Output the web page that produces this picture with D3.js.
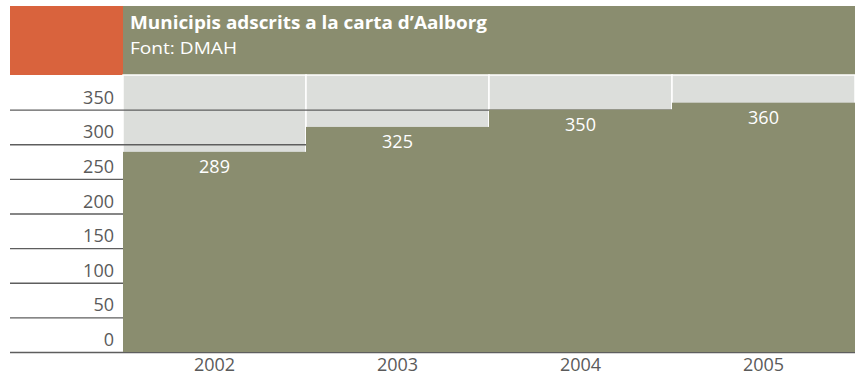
<!DOCTYPE html>
<html>
<head>
<meta charset="utf-8">
<script src="https://cdn.jsdelivr.net/npm/d3@7/dist/d3.min.js"></script>
<style>
  html, body { margin: 0; padding: 0; background: #ffffff; }
  svg { display: block; }
  text { font-family: "Open Sans", "Noto Sans", sans-serif; }
</style>
</head>
<body>
<svg id="chart" width="860" height="377"></svg>
<script>
const title = "Municipis adscrits a la carta d\u2019Aalborg";
const subtitle = "Font: DMAH";
const years = ["2002", "2003", "2004", "2005"];
const values = [289, 325, 350, 360];
const yTicks = [0, 50, 100, 150, 200, 250, 300, 350];
const yMax = 400;

const W = 860, H = 377;
const plotLeft = 123, plotRight = 855, plotTop = 75, plotBottom = 352;
const gridLeft = 10;

const green = "#8a8d6f", lightGray = "#dcdedb", orange = "#d9633d";

const svg = d3.select("#chart");

const x = d3.scaleBand().domain(years).range([plotLeft, plotRight]).padding(0);
const y = d3.scaleLinear().domain([0, yMax]).range([plotBottom, plotTop]);

// header
svg.append("rect").attr("x", gridLeft).attr("y", 6).attr("width", plotLeft - gridLeft).attr("height", plotTop - 6).attr("fill", orange);
svg.append("rect").attr("x", plotLeft).attr("y", 6).attr("width", plotRight - plotLeft).attr("height", plotTop - 6).attr("fill", green);
svg.append("text").attr("x", 130).attr("y", 29).attr("fill", "#ffffff")
  .attr("font-weight", "bold").attr("font-size", 18.5)
  .attr("textLength", 357).attr("lengthAdjust", "spacingAndGlyphs").text(title);
svg.append("text").attr("x", 130).attr("y", 54).attr("fill", "#ffffff")
  .attr("font-size", 17)
  .attr("textLength", 107).attr("lengthAdjust", "spacingAndGlyphs").text(subtitle);

// light background per band with white separators
svg.append("g").selectAll("rect").data(years).join("rect")
  .attr("x", d => x(d)).attr("y", plotTop)
  .attr("width", x.bandwidth()).attr("height", plotBottom - plotTop)
  .attr("fill", lightGray).attr("stroke", "#ffffff").attr("stroke-width", 1.5);

// gridlines (drawn from the right edge leftwards, beneath the bars)
const yAxis = d3.axisLeft(y).tickValues(yTicks).tickSize(plotRight - gridLeft).tickFormat("");
const gAxis = svg.append("g").attr("transform", `translate(${plotRight},0)`).call(yAxis);
gAxis.select(".domain").remove();
gAxis.selectAll("line").attr("stroke", "#5e5e5e").attr("stroke-width", 1.3);

// tick labels
svg.append("g").selectAll("text").data(yTicks).join("text")
  .attr("x", 114).attr("y", d => y(d) - 6)
  .attr("text-anchor", "end").attr("font-size", 18).attr("fill", "#5a5a5a")
  .text(d => d);

// bars
svg.append("g").selectAll("rect").data(values).join("rect")
  .attr("x", (d, i) => x(years[i])).attr("y", d => y(d))
  .attr("width", x.bandwidth()).attr("height", d => y(0) - y(d))
  .attr("fill", green);

// value labels
svg.append("g").selectAll("text").data(values).join("text")
  .attr("x", (d, i) => x(years[i]) + x.bandwidth() / 2).attr("y", d => y(d) + 21)
  .attr("text-anchor", "middle").attr("font-size", 18).attr("fill", "#ffffff")
  .text(d => d);

// x labels
const xAxis = d3.axisBottom(x).tickSize(0).tickPadding(0);
const gx = svg.append("g").attr("transform", `translate(0,${plotBottom})`).call(xAxis);
gx.select(".domain").remove();
gx.selectAll("text").attr("font-size", 18).attr("fill", "#5a5a5a")
  .attr("font-family", "\"Open Sans\", \"Noto Sans\", sans-serif")
  .attr("dy", null).attr("y", 19);
</script>
</body>
</html>
